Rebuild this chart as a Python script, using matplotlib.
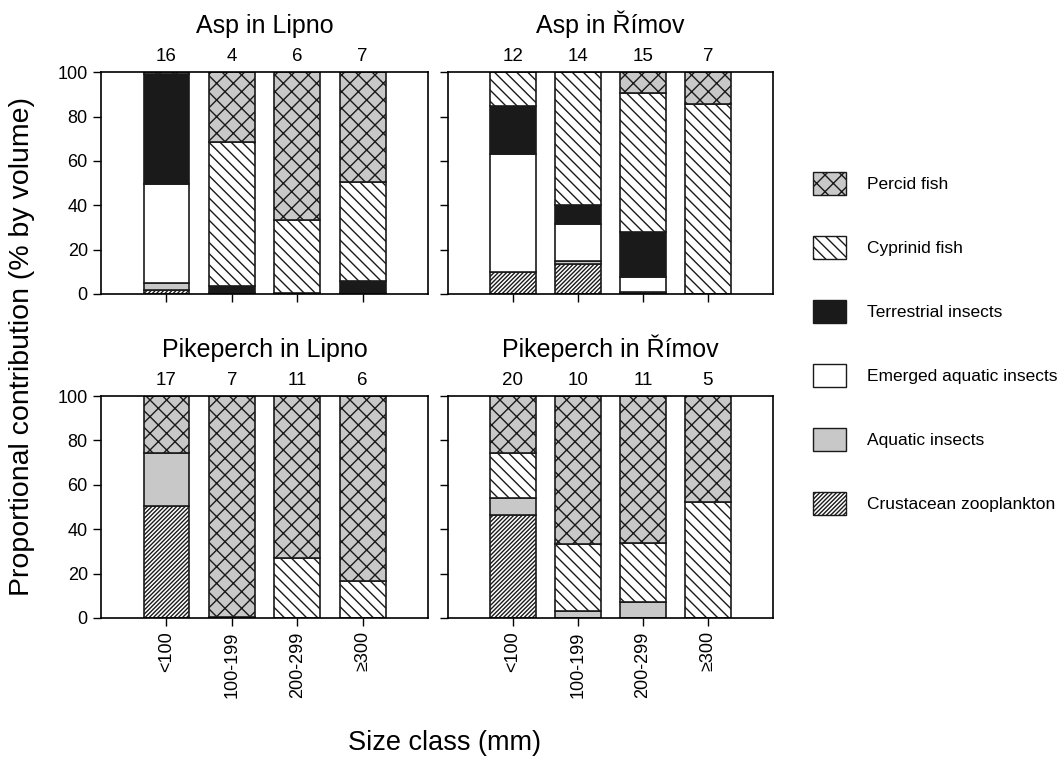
import matplotlib
matplotlib.use('Agg')
import matplotlib.pyplot as plt
from matplotlib.patches import Patch

plt.rcParams['font.family'] = ['Liberation Sans', 'DejaVu Sans']
plt.rcParams['hatch.linewidth'] = 1.0

size_classes = ['<100', '100-199', '200-299', '\u2265300']

# diet items per size class, bottom of the stack first
asp_lipno_crust = [2, 0.5, 0, 0.5]
asp_lipno_aquatic = [3, 0, 0, 0]
asp_lipno_emerged = [44.5, 0, 0, 0]
asp_lipno_terrestrial = [49.5, 3.3, 0.5, 5.5]
asp_lipno_cyprinid = [0, 64.9, 33, 44.5]
asp_lipno_percid = [1, 31.3, 66.5, 49.5]
asp_lipno_n = [16, 4, 6, 7]

asp_rimov_crust = [10, 13.7, 0.8, 0]
asp_rimov_aquatic = [0, 1.2, 0, 0]
asp_rimov_emerged = [53, 16.7, 6.7, 0]
asp_rimov_terrestrial = [21.7, 8.7, 20.5, 0]
asp_rimov_cyprinid = [15.3, 59.7, 62.8, 85.7]
asp_rimov_percid = [0, 0, 9.2, 14.3]
asp_rimov_n = [12, 14, 15, 7]

pike_lipno_crust = [50.3, 0, 0, 0]
pike_lipno_aquatic = [23.9, 0, 0, 0]
pike_lipno_emerged = [0, 0, 0, 0]
pike_lipno_terrestrial = [0, 0, 0, 0]
pike_lipno_cyprinid = [0, 0.5, 27.2, 16.8]
pike_lipno_percid = [25.8, 99.5, 72.8, 83.2]
pike_lipno_n = [17, 7, 11, 6]

pike_rimov_crust = [46.4, 0, 0, 0]
pike_rimov_aquatic = [7.5, 3.3, 7.2, 0]
pike_rimov_emerged = [0, 0, 0, 0]
pike_rimov_terrestrial = [0, 0, 0, 0]
pike_rimov_cyprinid = [20.4, 30.2, 26.6, 52.1]
pike_rimov_percid = [25.7, 66.5, 66.2, 47.9]
pike_rimov_n = [20, 10, 11, 5]

# name, face colour, hatch
styles = [
    ('Crustacean zooplankton', 'white', '////////'),
    ('Aquatic insects', '#c8c8c8', None),
    ('Emerged aquatic insects', 'white', None),
    ('Terrestrial insects', '#1a1a1a', None),
    ('Cyprinid fish', 'white', '\\\\\\'),
    ('Percid fish', '#c8c8c8', 'xx'),
]

panels = [
    ('Asp in Lipno', [asp_lipno_crust, asp_lipno_aquatic, asp_lipno_emerged,
                      asp_lipno_terrestrial, asp_lipno_cyprinid, asp_lipno_percid], asp_lipno_n),
    ('Asp in \u0158\u00edmov', [asp_rimov_crust, asp_rimov_aquatic, asp_rimov_emerged,
                               asp_rimov_terrestrial, asp_rimov_cyprinid, asp_rimov_percid], asp_rimov_n),
    ('Pikeperch in Lipno', [pike_lipno_crust, pike_lipno_aquatic, pike_lipno_emerged,
                            pike_lipno_terrestrial, pike_lipno_cyprinid, pike_lipno_percid], pike_lipno_n),
    ('Pikeperch in \u0158\u00edmov', [pike_rimov_crust, pike_rimov_aquatic, pike_rimov_emerged,
                                     pike_rimov_terrestrial, pike_rimov_cyprinid, pike_rimov_percid], pike_rimov_n),
]

fig = plt.figure(figsize=(10.62, 7.65), dpi=100)
positions = [
    [0.0951, 0.6157, 0.308, 0.290],
    [0.4218, 0.6157, 0.306, 0.290],
    [0.0951, 0.1922, 0.308, 0.290],
    [0.4218, 0.1922, 0.306, 0.290],
]

xs = [1, 2, 3, 4]
for i, (title, series, counts) in enumerate(panels):
    ax = fig.add_axes(positions[i])
    bottoms = [0, 0, 0, 0]
    for vals, (name, fc, hatch) in zip(series, styles):
        for x, v, b in zip(xs, vals, bottoms):
            if v > 0:
                ax.bar(x, v, bottom=b, width=0.7, color=fc, edgecolor='#1a1a1a',
                       linewidth=1.2, hatch=hatch)
        bottoms = [b + v for b, v in zip(bottoms, vals)]
    ax.set_xlim(0, 5)
    ax.set_ylim(0, 100)
    ax.set_yticks([0, 20, 40, 60, 80, 100])
    ax.set_xticks(xs)
    ax.tick_params(direction='out', length=6, width=1, labelsize=13)
    for s in ax.spines.values():
        s.set_linewidth(1.2)
    if i % 2 == 1:
        ax.set_yticklabels([])
    if i < 2:
        ax.set_xticklabels([])
    else:
        ax.set_xticklabels(size_classes, rotation=90, va='top')
    for x, n in zip(xs, counts):
        ax.text(x, 103, str(n), ha='center', va='bottom', fontsize=13.5, clip_on=False)
    ax.set_title(title, fontsize=18, pad=28)

fig.text(0.021, 0.547, 'Proportional contribution (% by volume)', rotation=90,
         ha='center', va='center', fontsize=20.5)
fig.text(0.419, 0.029, 'Size class (mm)', ha='center', va='center', fontsize=19.5)

handles = [Patch(facecolor=fc, edgecolor='#1a1a1a', hatch=h, label=name)
           for name, fc, h in styles][::-1]
fig.legend(handles=handles, loc='upper left', bbox_to_anchor=(0.751, 0.795),
           frameon=False, fontsize=12.5, handlelength=1.9, handleheight=1.6,
           labelspacing=2.4, handletextpad=1.2)

fig.savefig('out.png', dpi=100)
